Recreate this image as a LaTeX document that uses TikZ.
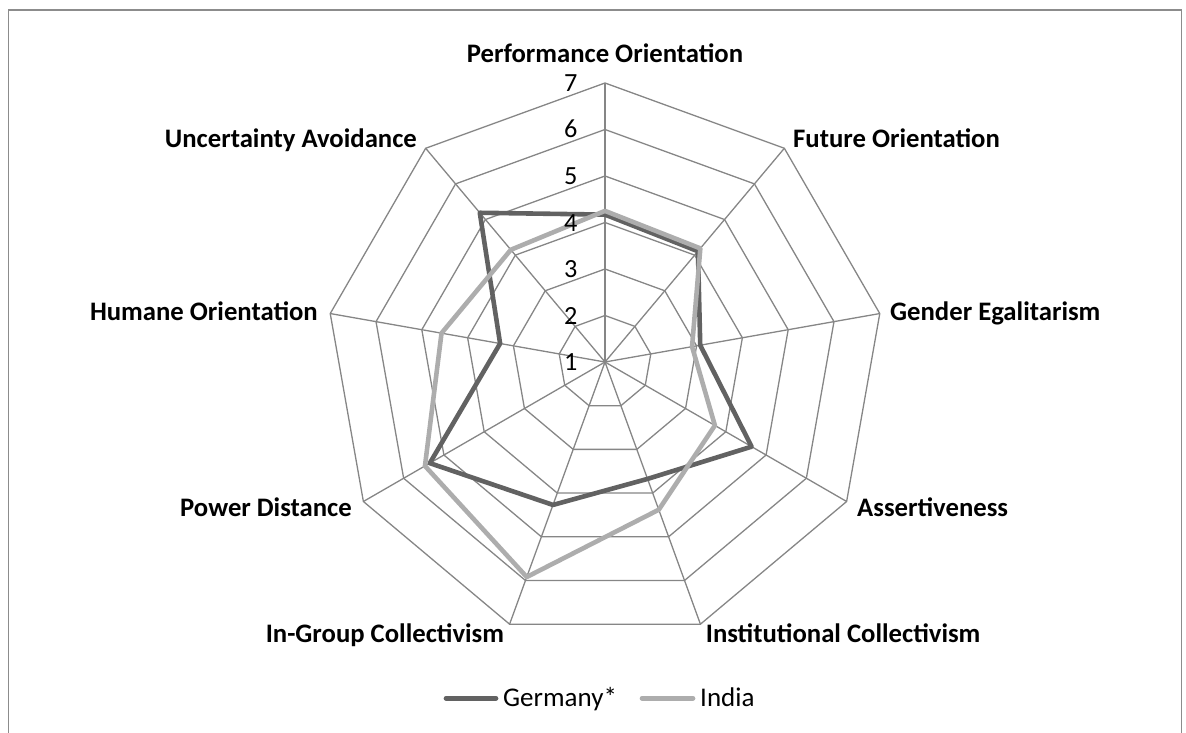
\documentclass[tikz,border=0pt]{standalone}
\usepackage{fontspec}
\setmainfont{Carlito}
\definecolor{gridgray}{HTML}{868686}
\definecolor{germ}{HTML}{626262}
\definecolor{ind}{HTML}{ADADAD}
\definecolor{bordergray}{HTML}{8C8C8C}
\begin{document}
\begin{tikzpicture}[x=1pt,y=1pt,
  catlabel/.style={font=\fontsize{26.7}{32}\selectfont\bfseries, inner sep=0pt},
  numlabel/.style={font=\fontsize{26.2}{31}\selectfont, inner sep=0pt, anchor=base east},
  leglabel/.style={font=\fontsize{27}{32}\selectfont, inner sep=0pt, anchor=base west},
  gridline/.style={draw=gridgray, line width=1.3pt},
  series/.style={line width=4.6pt, line join=round, line cap=round}]
\useasboundingbox (0,0) rectangle (1186,-733);
\clip (0,0) rectangle (1186,-733);
% outer border
\draw[bordergray, line width=1.4pt] (8.5,-10) rectangle (1181.5,-760);
\begin{scope}[shift={(605,-362)}]
  \coordinate (C) at (0,0);
  % rings
  \foreach \v in {2,...,7} {
    \pgfmathsetmacro{\r}{(\v-1)*46.5}
    \draw[gridline] (90:\r) -- (50:\r) -- (10:\r) -- (-30:\r) -- (-70:\r) -- (-110:\r) -- (-150:\r) -- (170:\r) -- (130:\r) -- cycle;
  }
  % spokes
  \foreach \a in {50,10,-30,-70,-110,-150,170,130} {
    \draw[gridline] (C) -- (\a:279);
  }
  \draw[draw=gridgray, line width=2pt] (C) -- (90:279);
  % Germany*
  \draw[series, germ] (90:147.4) -- (50:144.6) -- (10:96.7) -- (-30:169.3) -- (-70:124.4) -- (-110:152.1) -- (-150:202.3) -- (170:106.5) -- (130:194.8) -- cycle;
  % India
  \draw[series, ind] (90:151.1) -- (50:148.3) -- (10:88.4) -- (-30:126.9) -- (-70:157.2) -- (-110:228.8) -- (-150:207.9) -- (170:166.0) -- (130:146.5) -- cycle;
\end{scope}
% value labels
\foreach \v in {1,...,7} {
  \pgfmathsetmacro{\yy}{-(362-(\v-1)*46.5+8.5)}
  \node[numlabel] (n\v) at (577.5,\yy) {\v};
}
% category labels
\node[catlabel, anchor=base] (po) at (605,-62.7) {Performance Orientation};
\node[catlabel, anchor=base west] (fo) at (793,-148) {Future Orientation};
\node[catlabel, anchor=base west] (ge) at (890,-320) {Gender Egalitarism};
\node[catlabel, anchor=base west] (as) at (857,-516) {Assertiveness};
\node[catlabel, anchor=base west] (ic) at (705.7,-642.7) {Institutional Collectivism};
\node[catlabel, anchor=base east] (igc) at (504.3,-642.7) {In-Group Collectivism};
\node[catlabel, anchor=base east] (pd) at (352,-516) {Power Distance};
\node[catlabel, anchor=base east] (ho) at (318,-320) {Humane Orientation};
\node[catlabel, anchor=base east] (ua) at (417,-148) {Uncertainty Avoidance};
% legend
\coordinate (g1) at (446,-698.3);
\coordinate (g2) at (496,-698.3);
\coordinate (i1) at (642,-698.3);
\coordinate (i2) at (693,-698.3);
\draw[germ, line width=4.7pt, line cap=round] (g1) -- (g2);
\draw[ind, line width=4.7pt, line cap=round] (i1) -- (i2);
\node[leglabel] (lg) at (503,-706) {Germany*};
\node[leglabel] (li) at (700,-706) {India};
\end{tikzpicture}
\end{document}
